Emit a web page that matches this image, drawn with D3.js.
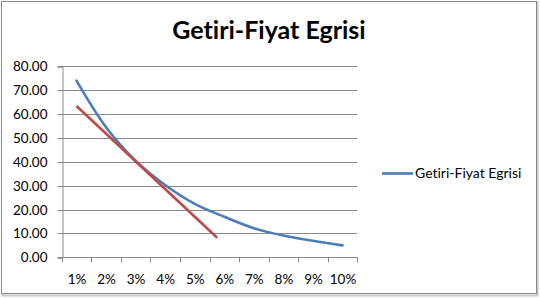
<!DOCTYPE html>
<html><head><meta charset="utf-8">
<script src="https://cdn.jsdelivr.net/npm/d3@7"></script>
<style>body{margin:0;background:#fff}svg{display:block}text{font-variant-ligatures:none;font-feature-settings:"liga" 0,"clig" 0}</style>
</head><body><svg id="c" width="540" height="298"></svg>
<script>
const categories = ["1%","2%","3%","4%","5%","6%","7%","8%","9%","10%"];
const priceValues = [74.0, 54.5, 40.5, 30.3, 22.4, 17.0, 12.2, 9.1, 6.9, 5.0];
const tangentIndex = [0, 4.76];
const tangentValues = [63.4, 8.2];
const yTicks = [0,10,20,30,40,50,60,70,80];
const seriesName = "Getiri-Fiyat Egrisi";
const titleText = "Getiri-Fiyat Egrisi";

const FONT = "Lato, 'Liberation Sans', Arial, sans-serif";
const svg = d3.select("#c");
// frame with shadow
svg.append("rect").attr("x",2.5).attr("y",2.5).attr("width",535).attr("height",293).attr("fill","none").attr("stroke","#c8c8c8").attr("stroke-width",2);
svg.append("rect").attr("x",1.5).attr("y",1.5).attr("width",535).attr("height",292).attr("fill","#fff").attr("stroke","#8a8a8a").attr("stroke-width",1);

const L = 61.7, R = 357.3, T = 66.3, B = 257.3;
const x = d3.scaleBand().domain(categories).range([L,R]).padding(0);
const bw = x.bandwidth();
const xi = d3.scaleLinear().domain([0, categories.length-1]).range([x(categories[0])+bw/2, x(categories[categories.length-1])+bw/2]);
const y = d3.scaleLinear().domain([0,80]).range([B,T]);
const fmt = d3.format(".2f");

const grid = svg.append("g");
grid.selectAll("line").data(yTicks.filter(d=>d>0)).join("line")
  .attr("x1",L).attr("x2",R).attr("y1",d=>Math.round(y(d))+0.5).attr("y2",d=>Math.round(y(d))+0.5)
  .attr("stroke","#8c8c8c").attr("stroke-width",1);

const yAxis = svg.append("g").attr("transform",`translate(${Math.round(L)+0.5},0.5)`)
  .call(d3.axisLeft(y).tickValues(yTicks).tickFormat(fmt).tickSize(5).tickPadding(10));
yAxis.select(".domain").attr("stroke","#8c8c8c");
yAxis.selectAll(".tick line").attr("stroke","#8c8c8c");
yAxis.selectAll(".tick text").attr("font-family",FONT).attr("font-size",13.5).attr("fill","#000").attr("dy","0.36em");
yAxis.selectAll(".tick").attr("transform",d=>`translate(0,${Math.round(y(d))})`);

const xAxis = svg.append("g").attr("transform",`translate(0.5,${Math.round(B)+0.5})`);
xAxis.append("line").attr("x1",L).attr("x2",R).attr("stroke","#8c8c8c");
const bounds = categories.map(c=>x(c)).concat([R]);
xAxis.selectAll("line.t").data(bounds).join("line").attr("class","t")
  .attr("x1",d=>Math.round(d)).attr("x2",d=>Math.round(d)).attr("y1",0).attr("y2",5).attr("stroke","#8c8c8c");
xAxis.selectAll("text").data(categories).join("text")
  .attr("x",d=>x(d)+bw/2).attr("y",26).attr("text-anchor","middle")
  .attr("font-family",FONT).attr("font-size",13.5).text(d=>d);

const line = d3.line().x((d,i)=>xi(i)).y(d=>y(d)).curve(d3.curveCatmullRom.alpha(0.5));
svg.append("path").datum(priceValues).attr("d",line).attr("fill","none")
  .attr("stroke","#4a7ebb").attr("stroke-width",2.6).attr("stroke-linecap","round");

const tline = d3.line().x(d=>xi(d[0])).y(d=>y(d[1]));
svg.append("path").datum(tangentIndex.map((v,i)=>[v,tangentValues[i]])).attr("d",tline)
  .attr("fill","none").attr("stroke","#be4b48").attr("stroke-width",2.6);

svg.append("text").attr("x",269).attr("y",39).attr("text-anchor","middle")
  .attr("font-family",FONT).attr("font-weight","bold").attr("font-size",25)
  .text(titleText);

const lg = svg.append("g");
lg.append("line").attr("x1",382).attr("x2",413).attr("y1",173.5).attr("y2",173.5).attr("stroke","#4a7ebb").attr("stroke-width",2.6);
lg.append("text").attr("x",415).attr("y",178).attr("font-family",FONT).attr("font-size",14).text(seriesName);
</script></body></html>
